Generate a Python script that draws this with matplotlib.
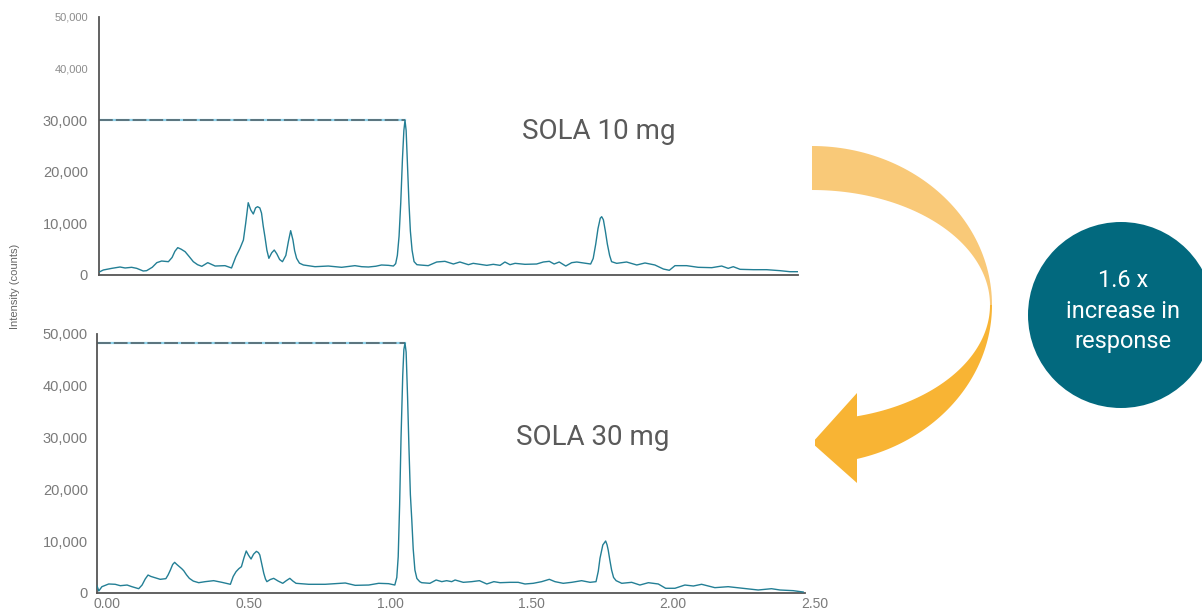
import numpy as np
import matplotlib
matplotlib.use('Agg')
import matplotlib.pyplot as plt
from matplotlib.patches import Polygon, Circle

plt.rcParams['font.family'] = ['Liberation Sans', 'DejaVu Sans']

# chromatogram, SOLA 10 mg (time in min, intensity in counts)
t_10mg = [-0.025, -0.013, 0.017, 0.046, 0.064, 0.087, 0.105, 0.128, 0.140, 0.160,
          0.176, 0.193, 0.217, 0.230, 0.240, 0.250, 0.262, 0.276, 0.290, 0.305,
          0.320, 0.335, 0.356, 0.382, 0.417, 0.440, 0.455, 0.470, 0.482, 0.490,
          0.499, 0.508, 0.517, 0.525, 0.532, 0.540, 0.546, 0.552, 0.558, 0.565,
          0.572, 0.582, 0.591, 0.600, 0.610, 0.620, 0.632, 0.641, 0.649, 0.657,
          0.663, 0.670, 0.680, 0.694, 0.735, 0.782, 0.829, 0.876, 0.900, 0.924,
          0.950, 0.970, 0.995, 1.012, 1.020, 1.026, 1.032, 1.038, 1.044, 1.049,
          1.053, 1.057, 1.062, 1.067, 1.072, 1.078, 1.085, 1.095, 1.106, 1.135,
          1.165, 1.194, 1.224, 1.247, 1.277, 1.294, 1.342, 1.365, 1.389, 1.406,
          1.424, 1.442, 1.477, 1.518, 1.542, 1.563, 1.580, 1.598, 1.621, 1.642,
          1.660, 1.683, 1.709, 1.718, 1.727, 1.735, 1.743, 1.748, 1.754, 1.761,
          1.768, 1.776, 1.783, 1.801, 1.836, 1.872, 1.901, 1.936, 1.966, 1.987,
          2.007, 2.048, 2.089, 2.137, 2.172, 2.195, 2.213, 2.237, 2.284, 2.331,
          2.378, 2.413, 2.443]
counts_10mg = [640, 970, 1290, 1550, 1360, 1490, 1290, 775, 840, 1500,
               2390, 2710, 2580, 3400, 4600, 5300, 5000, 4520, 3600, 2580,
               2000, 1680, 2390, 1740, 1810, 1360, 3500, 5170, 6780, 10000,
               14010, 12600, 11820, 13000, 13240, 13000, 12000, 9500, 7430, 4800,
               3230, 4300, 4840, 4100, 3000, 2580, 3800, 6500, 8590, 6800,
               4700, 3230, 2300, 1940, 1610, 1740, 1490, 1810, 1610, 1550,
               1700, 1940, 1870, 1740, 2200, 3800, 7500, 14000, 22500, 28000,
               30000, 28000, 21000, 14000, 8500, 4800, 2600, 2000, 1940, 1810,
               2520, 2650, 2130, 2520, 2000, 2260, 1870, 2070, 1870, 2520,
               2000, 2260, 2070, 2130, 2520, 2650, 2130, 2520, 1740, 2390,
               2520, 2330, 2130, 3200, 6000, 9000, 11000, 11300, 10700, 8500,
               6000, 3800, 2580, 2260, 2520, 1940, 2330, 1940, 1160, 910,
               1810, 1810, 1490, 1420, 1740, 1290, 1610, 1100, 1030, 1030,
               840, 640, 640]

# chromatogram, SOLA 30 mg
t_30mg = [-0.035, -0.029, -0.018, 0.006, 0.029, 0.047, 0.071, 0.088, 0.112, 0.124,
          0.135, 0.145, 0.155, 0.165, 0.188, 0.208, 0.216, 0.224, 0.232, 0.239,
          0.247, 0.256, 0.264, 0.271, 0.281, 0.291, 0.305, 0.324, 0.347, 0.377,
          0.406, 0.436, 0.446, 0.456, 0.466, 0.475, 0.484, 0.492, 0.500, 0.509,
          0.518, 0.528, 0.535, 0.540, 0.547, 0.554, 0.560, 0.565, 0.577, 0.589,
          0.605, 0.621, 0.634, 0.646, 0.657, 0.668, 0.713, 0.771, 0.842, 0.877,
          0.925, 0.960, 0.995, 1.017, 1.024, 1.029, 1.034, 1.039, 1.045, 1.049,
          1.053, 1.057, 1.062, 1.067, 1.072, 1.077, 1.082, 1.088, 1.095, 1.105,
          1.112, 1.141, 1.163, 1.183, 1.200, 1.218, 1.230, 1.259, 1.289, 1.316,
          1.342, 1.367, 1.389, 1.424, 1.453, 1.477, 1.506, 1.536, 1.563, 1.583,
          1.612, 1.642, 1.677, 1.707, 1.728, 1.736, 1.742, 1.752, 1.762, 1.767,
          1.771, 1.777, 1.783, 1.790, 1.799, 1.819, 1.854, 1.883, 1.913, 1.948,
          1.974, 2.007, 2.042, 2.072, 2.101, 2.148, 2.195, 2.248, 2.301, 2.348,
          2.378, 2.425, 2.460]
counts_30mg = [1350, 390, 1220, 1740, 1680, 1410, 1540, 1220, 830, 1540,
               2700, 3470, 3200, 3030, 2640, 2770, 3500, 4440, 5500, 5920,
               5500, 5080, 4700, 4310, 3500, 2830, 2300, 1990, 2190, 2380,
               2060, 1680, 3200, 4120, 4700, 5080, 6800, 8110, 7300, 6560,
               7500, 8040, 7800, 7340, 5600, 3800, 2700, 2190, 2600, 2830,
               2300, 1870, 2400, 2830, 2300, 1870, 1680, 1680, 1930, 1480,
               1540, 1870, 1800, 1540, 3000, 7000, 17000, 30000, 42000, 47000,
               48260, 46500, 38000, 28000, 19000, 14100, 8500, 4440, 2800, 2190,
               1990, 1870, 2510, 2190, 2380, 2190, 2510, 2060, 2190, 2380,
               1740, 2190, 1990, 2060, 2060, 1740, 1870, 2190, 2640, 2190,
               1870, 2060, 2380, 2060, 2190, 4200, 6700, 9270, 10040, 9300,
               8300, 6300, 4440, 3000, 2380, 1870, 2060, 1540, 1990, 1740,
               910, 910, 1540, 1350, 1680, 1030, 1220, 910, 580, 830,
               580, 450, 190]

y_ticks = [0, 10000, 20000, 30000, 40000, 50000]
y_labels = ['0', '10,000', '20,000', '30,000', '40,000', '50,000']
x_ticks = [0.0, 0.5, 1.0, 1.5, 2.0, 2.5]
x_labels = ['0.00', '0.50', '1.00', '1.50', '2.00', '2.50']

W, H = 1202, 613
fig = plt.figure(figsize=(W / 100, H / 100), dpi=100)

line_c = '#237f95'
spine_c = '#555555'
PX = 283.0   # pixels per minute
X0 = 107     # pixel of t = 0
big_font = ['Roboto', 'Liberation Sans']


def px_axes(left, right, bottom, top):
    return fig.add_axes([left / W, 1 - bottom / H, (right - left) / W, (bottom - top) / H])


def setup(ax, pad):
    for s in ['top', 'right']:
        ax.spines[s].set_visible(False)
    for s in ['left', 'bottom']:
        ax.spines[s].set_color(spine_c)
        ax.spines[s].set_linewidth(1.3)
    ax.set_yticks(y_ticks)
    ax.set_yticklabels(y_labels)
    ax.set_ylim(0, 50000)
    ax.tick_params(length=0, colors='#7a7a7a', labelsize=10.5)
    ax.tick_params(axis='y', pad=pad)


def draw_trace(ax, t, c, xmin):
    ax.plot(t, c, color=line_c, lw=1.0, zorder=3)
    i = int(np.argmax(c))
    ax.plot([xmin, t[i]], [c[i], c[i]], color='#8fd3ec', lw=1.6, zorder=2)
    ax.plot([xmin, t[i]], [c[i], c[i]], color='#4d5a60', lw=1.1,
            dashes=(9, 2), zorder=2)


# top panel: SOLA 10 mg
ax1 = px_axes(99, 798, 275, 17)
setup(ax1, 8)
x0_top = (99 - X0) / PX
ax1.set_xticks([])
ax1.set_xlim(x0_top, (798 - X0) / PX)
draw_trace(ax1, t_10mg, counts_10mg, x0_top)
for lab in ax1.get_yticklabels()[4:]:
    lab.set_fontsize(8)
    lab.set_color('#8c8c8c')
ax1.text(0.715, 0.558, 'SOLA 10 mg', transform=ax1.transAxes, fontsize=20,
         color='#5a5a5a', ha='center', va='center', family=big_font)

# bottom panel: SOLA 30 mg (axes runs a bit past the spine so 2.50 can show)
ax2 = px_axes(97, 815, 593, 334)
setup(ax2, 6.5)
x0_bot = (97 - X0) / PX
ax2.set_xticks(x_ticks)
ax2.set_xticklabels(x_labels)
ax2.set_xlim(x0_bot, (815 - X0) / PX)
ax2.spines['bottom'].set_bounds(x0_bot, (805 - X0) / PX)
ax2.tick_params(axis='x', pad=3, labelsize=10)
draw_trace(ax2, t_30mg, counts_30mg, x0_bot)
ax2.text(0.69, 0.6, 'SOLA 30 mg', transform=ax2.transAxes, fontsize=20,
         color='#5a5a5a', ha='center', va='center', family=big_font)

fig.text(15 / W, 1 - 286 / H, 'Intensity (counts)', rotation=90, fontsize=8,
         color='#666666', ha='center', va='center')

# curved arrow and circle, drawn in pixel space
ov = fig.add_axes([0, 0, 1, 1], zorder=-1)
ov.set_xlim(0, W)
ov.set_ylim(H, 0)
ov.axis('off')

cx, cy = 812, 305
th = np.linspace(np.pi / 2, 0, 60)
upper = np.vstack([np.column_stack([cx + 180 * np.cos(th), cy - 159 * np.sin(th)]),
                   np.column_stack([cx + 178 * np.cos(th[::-1]), cy - 115 * np.sin(th[::-1])])])
ov.add_patch(Polygon(upper, closed=True, facecolor='#f9c978', edgecolor='none'))

th_o = np.linspace(0, np.arccos(45 / 180), 60)
th_i = np.linspace(np.arccos(45 / 178), 0, 60)
lower = np.vstack([np.column_stack([cx + 180 * np.cos(th_o), cy + 159 * np.sin(th_o)]),
                   [[857, 483], [812, 443], [857, 393]],
                   np.column_stack([cx + 178 * np.cos(th_i), cy + 115 * np.sin(th_i)])])
ov.add_patch(Polygon(lower, closed=True, facecolor='#f8b434', edgecolor='none'))

ov.add_patch(Circle((1121, 315), 93, facecolor='#02697e', edgecolor='none'))
ov.text(1123, 311, '1.6 x\nincrease in\nresponse', color='white', fontsize=17,
        ha='center', va='center', linespacing=1.4, family=big_font)

fig.savefig('out.png', dpi=100)
